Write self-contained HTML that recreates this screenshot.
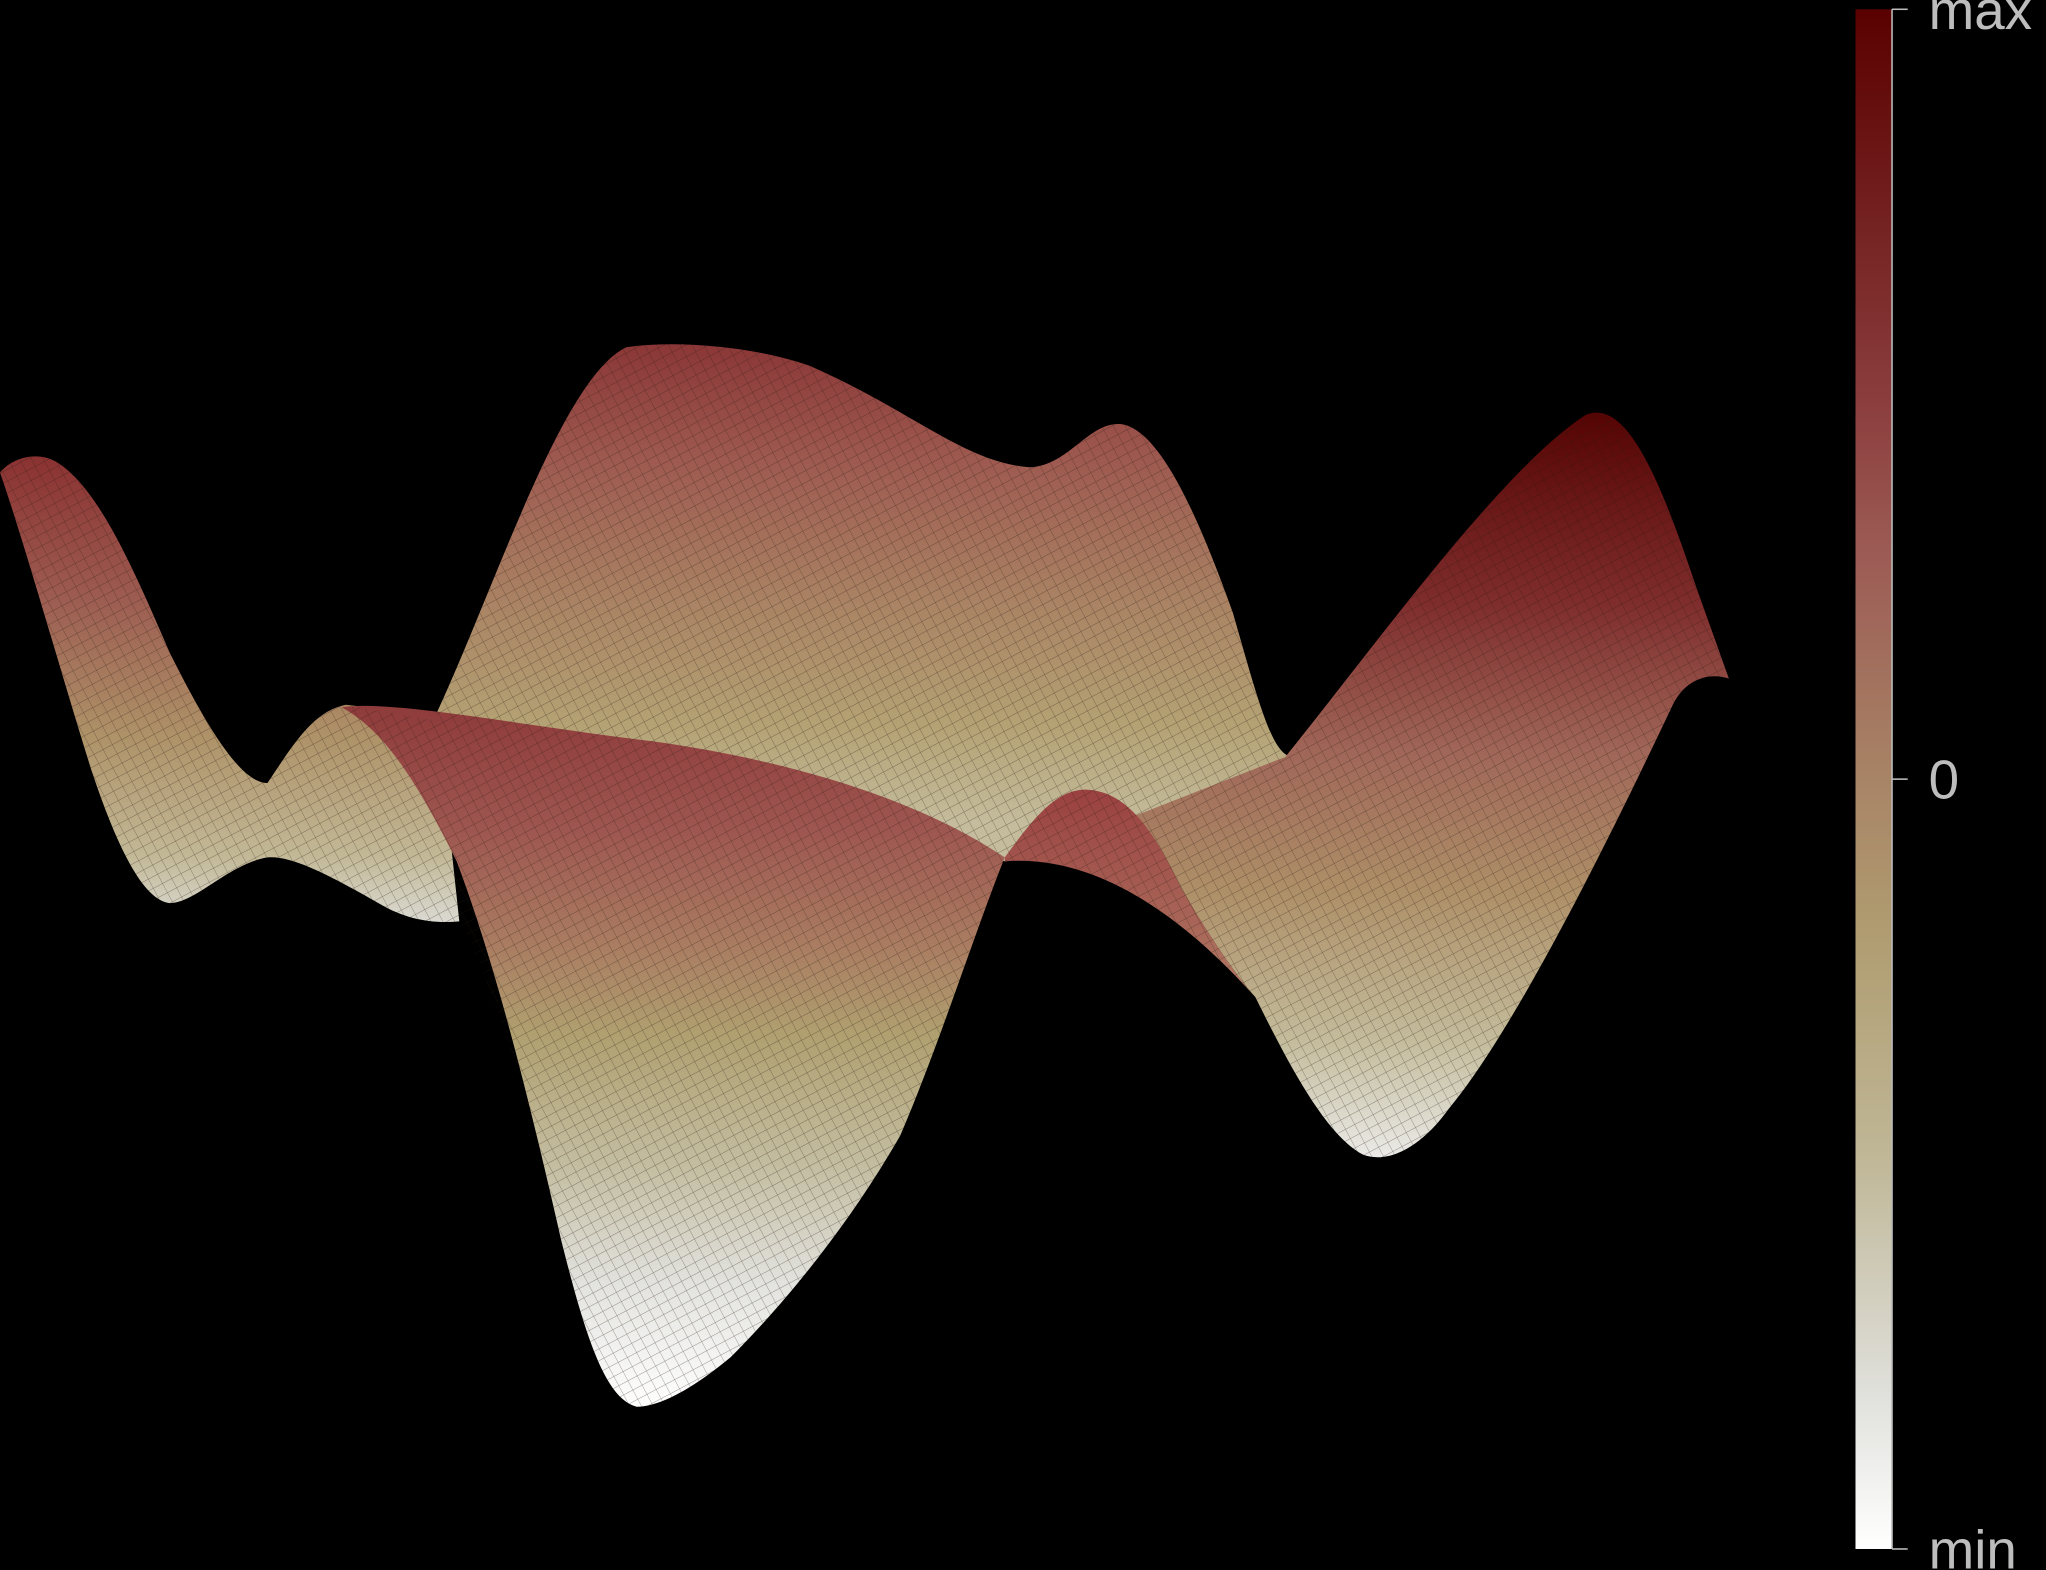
<!DOCTYPE html>
<html><head><meta charset="utf-8">
<style>
html,body{margin:0;padding:0;background:#000;}
svg{display:block;}
</style></head>
<body>
<svg id="chart" width="2046" height="1570" viewBox="0 0 1568 1203" xmlns="http://www.w3.org/2000/svg">
<defs>
  <pattern id="mesh" patternUnits="userSpaceOnUse" width="8" height="8" patternTransform="rotate(-28)">
    <path d="M0,0 L8,0 M0,0 L0,8" stroke="#2a1a10" stroke-width="0.5" stroke-opacity="0.6" fill="none"/>
  </pattern>
  <linearGradient id="gA" gradientUnits="userSpaceOnUse" x1="0" y1="345" x2="0" y2="710">
    <stop offset="0" stop-color="#8a3030"/><stop offset="0.3" stop-color="#9c5a50"/>
    <stop offset="0.6" stop-color="#ae9268"/><stop offset="0.85" stop-color="#c2b896"/><stop offset="1" stop-color="#dcdcd6"/>
  </linearGradient>
  <linearGradient id="gB" gradientUnits="userSpaceOnUse" x1="0" y1="262" x2="0" y2="630">
    <stop offset="0" stop-color="#8a3636"/><stop offset="0.25" stop-color="#9e5a50"/>
    <stop offset="0.55" stop-color="#aa8464"/><stop offset="0.8" stop-color="#b4a274"/><stop offset="1" stop-color="#c4bc9c"/>
  </linearGradient>
  <linearGradient id="gC" gradientUnits="userSpaceOnUse" x1="0" y1="318" x2="0" y2="890">
    <stop offset="0" stop-color="#560404"/><stop offset="0.25" stop-color="#7e2c2c"/>
    <stop offset="0.45" stop-color="#a06658"/><stop offset="0.64" stop-color="#ae9068"/>
    <stop offset="0.84" stop-color="#c4bc9c"/><stop offset="1" stop-color="#ececea"/>
  </linearGradient>
  <linearGradient id="gD" gradientUnits="userSpaceOnUse" x1="0" y1="538" x2="0" y2="1080">
    <stop offset="0" stop-color="#8e3a3a"/><stop offset="0.18" stop-color="#9e5650"/>
    <stop offset="0.35" stop-color="#aa7e62"/><stop offset="0.47" stop-color="#b0a070"/>
    <stop offset="0.66" stop-color="#c4bea2"/><stop offset="0.82" stop-color="#e2e2de"/><stop offset="1" stop-color="#ffffff"/>
  </linearGradient>
  <linearGradient id="gE" gradientUnits="userSpaceOnUse" x1="0" y1="603" x2="0" y2="765">
    <stop offset="0" stop-color="#9a4040"/><stop offset="1" stop-color="#b07a64"/>
  </linearGradient>
  <linearGradient id="cbar" x1="0" y1="0" x2="0" y2="1"></linearGradient>
</defs>

<g>
  <path fill="url(#gA)"
    d="M0,362 C10,350 30,345 45,355 C75,375 100,430 130,500 C160,560 185,600 205,600 C225,570 240,545 265,540 L335,548 L352,706 C330,708 310,704 290,692 C260,675 225,655 205,657 C175,662 150,692 130,692 C110,690 90,650 70,590 C45,510 20,420 0,362 Z"/>
  <path fill="url(#gB)"
    d="M332,552 C380,450 430,290 480,266 C520,260 580,266 620,280 C700,315 740,355 790,358 C820,356 835,322 860,325 C890,330 920,400 945,470 C965,540 975,578 990,580 L900,640 L770,660 L600,600 L400,570 Z"/>
  <path fill="url(#gC)"
    d="M985,580 C1050,500 1150,360 1215,318 C1245,305 1270,360 1300,450 L1325,520 C1310,515 1292,520 1282,540 C1230,650 1160,790 1110,850 C1090,878 1065,892 1045,885 C1015,870 985,810 962,764 C948,748 928,720 905,680 C895,660 885,640 870,625 Z"/>
  <path fill="url(#gD)"
    d="M262,542 C300,536 400,556 500,568 C600,582 700,610 770,657 C745,720 720,800 690,870 C650,940 600,1000 560,1040 C530,1065 505,1078 488,1078 C465,1072 450,1030 430,950 C405,840 380,740 350,660 C320,600 295,560 262,542 Z"/>
  <path fill="url(#gE)"
    d="M770,657 C790,630 808,605 832,605 C862,606 882,632 905,680 C928,720 948,748 962,764 C900,695 835,655 770,660 Z"/>
  <path fill="url(#mesh)"
    d="M0,362 C10,350 30,345 45,355 C75,375 100,430 130,500 C160,560 185,600 205,600 C225,570 240,545 265,540 L332,552 C380,450 430,290 480,266 C520,260 580,266 620,280 C700,315 740,355 790,358 C820,356 835,322 860,325 C890,330 920,400 945,470 C965,540 975,578 988,580 C1050,500 1150,360 1215,318 C1245,305 1270,360 1300,450 L1325,520 C1310,515 1292,520 1282,540 C1230,650 1160,790 1110,850 C1090,878 1065,892 1045,885 C1015,870 985,810 962,764 C900,695 835,655 770,660 C745,720 720,800 690,870 C650,940 600,1000 560,1040 C530,1065 505,1078 488,1078 C465,1072 450,1030 430,950 C410,860 385,770 352,706 C330,708 310,704 290,692 C260,675 225,655 205,657 C175,662 150,692 130,692 C110,690 90,650 70,590 C45,510 20,420 0,362 Z"/>
</g>

<g id="colorbar"></g>
</svg>
<script>
const cbStopOffsets = [0, 0.25, 0.35, 0.5, 0.6, 0.75, 0.9, 1];
const cbStopColors = ['#5a0000', '#8a3c3c', '#9c5a54', '#a88466', '#b09c70', '#c0b898', '#e0e0dc', '#ffffff'];
const tickValues = [1, 0.5, 0];
const tickLabels = ['max', '0', 'min'];

const NS = 'http://www.w3.org/2000/svg';
const barX = 1422, barW = 28, barTop = 7, barBot = 1187;
function yScale(v){ return barBot - v * (barBot - barTop); }

const grad = document.getElementById('cbar');
cbStopOffsets.forEach((o, i) => {
  const s = document.createElementNS(NS, 'stop');
  s.setAttribute('offset', o);
  s.setAttribute('stop-color', cbStopColors[i]);
  grad.appendChild(s);
});
const cb = document.getElementById('colorbar');
const rect = document.createElementNS(NS, 'rect');


rect.setAttribute('x', barX); rect.setAttribute('y', barTop);
rect.setAttribute('width', barW); rect.setAttribute('height', barBot - barTop);
rect.setAttribute('fill', 'url(#cbar)');
cb.appendChild(rect);
const axis = document.createElementNS(NS, 'line');


axis.setAttribute('x1', barX + barW); axis.setAttribute('x2', barX + barW);
axis.setAttribute('y1', barTop); axis.setAttribute('y2', barBot);
axis.setAttribute('stroke', '#bbbbbb'); axis.setAttribute('stroke-width', '1.2');
cb.appendChild(axis);
tickValues.forEach((v, i) => {
  const y = yScale(v);
  const t = document.createElementNS(NS, 'line');
  
  
  t.setAttribute('x1', barX + barW); t.setAttribute('x2', barX + barW + 12);
  t.setAttribute('y1', y); t.setAttribute('y2', y);
  t.setAttribute('stroke', '#bbbbbb'); t.setAttribute('stroke-width', '1.2');
  cb.appendChild(t);
  const tx = document.createElementNS(NS, 'text');
  
  
  tx.setAttribute('x', barX + barW + 28);
  tx.setAttribute('y', y + 15);
  tx.setAttribute('fill', '#bdbdbd');
  tx.setAttribute('font-family', '"Liberation Sans", "DejaVu Sans", sans-serif');
  tx.setAttribute('font-weight', '300');
  tx.setAttribute('font-size', '42');
  tx.textContent = tickLabels[i];
  cb.appendChild(tx);
});
</script>
</body></html>
